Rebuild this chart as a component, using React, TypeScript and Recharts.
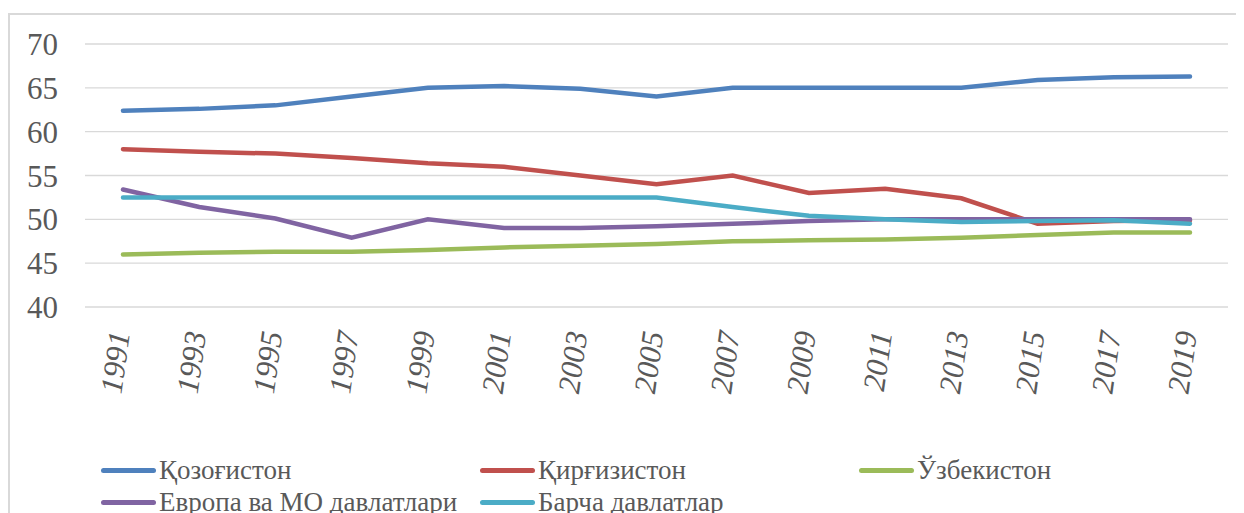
import React from 'react';
import { LineChart, Line, XAxis, YAxis, CartesianGrid, Legend } from 'recharts';

const years = ['1991', '1993', '1995', '1997', '1999', '2001', '2003', '2005', '2007', '2009', '2011', '2013', '2015', '2017', '2019'];
const kazakhstan = [62.4, 62.6, 63.0, 64.0, 65.0, 65.2, 64.9, 64.0, 65.0, 65.0, 65.0, 65.0, 65.9, 66.2, 66.3];
const kyrgyzstan = [58.0, 57.7, 57.5, 57.0, 56.4, 56.0, 55.0, 54.0, 55.0, 53.0, 53.5, 52.4, 49.5, 49.8, 49.9];
const uzbekistan = [46.0, 46.2, 46.3, 46.3, 46.5, 46.8, 47.0, 47.2, 47.5, 47.6, 47.7, 47.9, 48.2, 48.5, 48.5];
const europe = [53.4, 51.4, 50.1, 47.9, 50.0, 49.0, 49.0, 49.2, 49.5, 49.8, 50.0, 50.0, 50.0, 50.0, 50.0];
const allCountries = [52.5, 52.5, 52.5, 52.5, 52.5, 52.5, 52.5, 52.5, 51.4, 50.4, 50.0, 49.7, 49.8, 49.9, 49.5];
const yTicks = [40, 45, 50, 55, 60, 65, 70];

const seriesNames = {
  kaz: 'Қозоғистон',
  kyr: 'Қирғизистон',
  uzb: 'Ўзбекистон',
  eur: 'Европа ва МО давлатлари',
  all: 'Барча давлатлар',
};

const seriesColors = {
  kaz: '#4F81BD',
  kyr: '#C0504D',
  uzb: '#9BBB59',
  eur: '#8064A2',
  all: '#4BACC6',
};

const legendOrder = ['kaz', 'kyr', 'uzb', 'eur', 'all'];

const data = years.map((year, i) => ({
  year,
  kaz: kazakhstan[i],
  kyr: kyrgyzstan[i],
  uzb: uzbekistan[i],
  eur: europe[i],
  all: allCountries[i],
}));

const FONT = "'Liberation Serif', 'Times New Roman', serif";
const TEXT_COLOR = '#595959';

const XTick = (props: any) => {
  const { x, y, payload } = props;
  const tx = x + 7;
  const ty = y + 26;
  return (
    <text
      x={tx}
      y={ty}
      transform={`rotate(-82, ${tx}, ${ty})`}
      textAnchor="end"
      fontStyle="italic"
      fontSize={31}
      fontFamily={FONT}
      fill={TEXT_COLOR}
    >
      {payload.value}
    </text>
  );
};

const LegendContent = () => (
  <div
    style={{
      display: 'flex',
      flexWrap: 'wrap',
      width: 1140,
      fontFamily: FONT,
      fontSize: 27,
      color: TEXT_COLOR,
    }}
  >
    {legendOrder.map((k) => (
      <div
        key={k}
        style={{ width: 379, height: 32, display: 'flex', alignItems: 'center', whiteSpace: 'nowrap' }}
      >
        <span
          style={{
            display: 'inline-block',
            width: 55,
            height: 5,
            borderRadius: 3,
            background: (seriesColors as any)[k],
            marginRight: 3,
          }}
        />
        <span>{(seriesNames as any)[k]}</span>
      </div>
    ))}
  </div>
);

export default function App() {
  return (
    <div style={{ position: 'relative', width: 1236, height: 505, overflow: 'hidden', background: '#fff' }}>
      <div
        style={{
          position: 'absolute',
          left: 0,
          top: 5,
          width: 1300,
          height: 600,
          border: '2px solid #d9d9d9',
          boxSizing: 'border-box',
        }}
      />
      <div style={{ position: 'absolute', left: 0, top: 0 }}>
        <LineChart width={1236} height={505} data={data} margin={{ top: 36, right: 16, left: 0, bottom: 106 }}>
          <CartesianGrid horizontal vertical={false} stroke="#d9d9d9" strokeWidth={1.3} />
          <XAxis
            dataKey="year"
            height={100}
            axisLine={false}
            tickLine={false}
            tickSize={0}
            tickMargin={0}
            interval={0}
            padding={{ left: 38, right: 38 }}
            tick={<XTick />}
          />
          <YAxis
            width={77}
            domain={[40, 70]}
            ticks={yTicks}
            axisLine={false}
            tickLine={false}
            tickSize={0}
            tickMargin={27}
            tick={{ fontSize: 31, fontFamily: FONT, fill: TEXT_COLOR }}
          />
          <Legend
            layout="horizontal"
            verticalAlign="middle"
            align="center"
            content={<LegendContent />}
            wrapperStyle={{ position: 'absolute', left: 93, top: 446, width: 1140, height: 70 }}
          />
          {legendOrder.map((k) => (
            <Line
              key={k}
              type="linear"
              dataKey={k}
              name={(seriesNames as any)[k]}
              stroke={(seriesColors as any)[k]}
              strokeWidth={4.5}
              dot={false}
              activeDot={false}
              strokeLinecap="round"
              isAnimationActive={false}
            />
          ))}
        </LineChart>
      </div>
    </div>
  );
}
